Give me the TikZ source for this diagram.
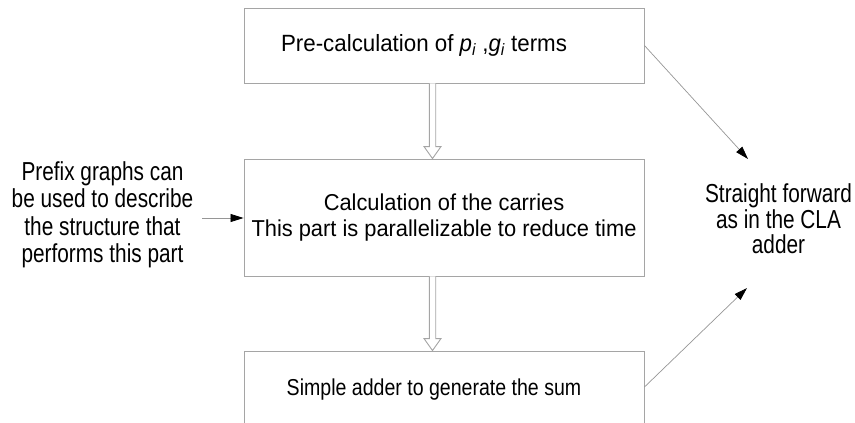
\documentclass[tikz,border=0pt]{standalone}
\usepackage{fontspec}
\setmainfont{Liberation Sans}
\newfontfamily\boxfont{Liberation Sans}[FakeStretch=0.95]
\newfontfamily\sumfont{Liberation Sans}[FakeStretch=0.85]
\newfontfamily\sidefont{Liberation Sans}[FakeStretch=0.8]
\usetikzlibrary{arrows.meta,calc}
\definecolor{boxgray}{RGB}{165,165,165}
\definecolor{linegray}{RGB}{150,150,150}
\begin{document}
\begin{tikzpicture}[x=1pt,y=-1pt,
  box/.style={draw=boxgray, line width=0.9pt, minimum width=400pt, inner sep=0pt, align=center, font=\boxfont\fontsize{23}{26.7}\selectfont},
  note/.style={align=center, inner sep=0pt, font=\sidefont\fontsize{26}{27.5}\selectfont},
  conn/.style={draw=linegray, line width=0.7pt, -{Triangle[length=13pt,width=8pt,color=black]}},
  hollow/.style={draw=boxgray, line width=0.9pt, fill=white}]
\useasboundingbox (0,0) rectangle (855,423);
\clip (0,0) rectangle (855,423);
\node[box, minimum height=75pt, font=\boxfont\fontsize{23.5}{27}\selectfont] (pre) at (444,45.5) {Pre-calculation of {\itshape p\textsubscript{i}} ,{\itshape g\textsubscript{i}} terms\hspace*{40pt}};
\node[box, minimum height=117pt] (carry) at (444,217.5) {Calculation of the carries\\This part is parallelizable to reduce time};
\node[box, minimum height=78pt, font=\sumfont\fontsize{23}{26}\selectfont] (sum) at (444,390) {Simple adder to generate the sum\hspace*{20pt}};
\node[note] (prefix) at (102.5,215) {Prefix graphs can\\be used to describe\\the structure that\\performs this part};
\node[note, font=\sidefont\fontsize{26}{25.5}\selectfont] (cla) at (778.5,219) {Straight forward\\as in the CLA\\adder};
\coordinate (t1) at (748,159);
\coordinate (t2) at (747,288);
\coordinate (a0) at (202,218);
\draw[conn] (pre.east) -- (t1);
\draw[conn] ([yshift=3pt]sum.east) -- (t2);
\draw[conn] (a0) -- (a0 -| carry.west);
\draw[hollow] ([xshift=-14.7pt]pre.south) -- ([xshift=-14.7pt,yshift=12pt]carry.north) -- ([xshift=-20pt,yshift=12pt]carry.north) -- ([xshift=-11.5pt]carry.north) -- ([xshift=-3pt,yshift=12pt]carry.north) -- ([xshift=-8.3pt,yshift=12pt]carry.north) -- ([xshift=-8.3pt]pre.south);
\draw[hollow] ([xshift=-14.7pt]carry.south) -- ([xshift=-14.7pt,yshift=12pt]sum.north) -- ([xshift=-20pt,yshift=12pt]sum.north) -- ([xshift=-11.5pt]sum.north) -- ([xshift=-3pt,yshift=12pt]sum.north) -- ([xshift=-8.3pt,yshift=12pt]sum.north) -- ([xshift=-8.3pt]carry.south);
\end{tikzpicture}
\end{document}
